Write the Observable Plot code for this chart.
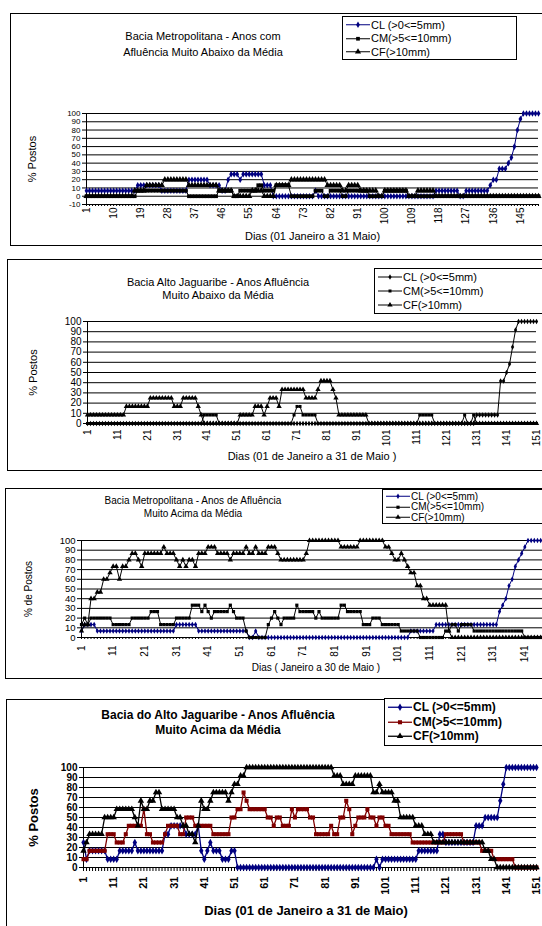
<!DOCTYPE html>
<html><head><meta charset="utf-8">
<script src="https://cdn.jsdelivr.net/npm/d3@7"></script>
<script src="https://cdn.jsdelivr.net/npm/@observablehq/plot@0.6"></script>
<style>
html,body{margin:0;padding:0;background:#fff}
body{width:542px;height:926px;overflow:hidden;position:relative;font-family:"Liberation Sans",Arial,sans-serif;color:#000}
.box{position:absolute;border:1px solid #000;box-sizing:border-box}
.svgwrap{position:absolute;left:0}
.svgwrap svg{max-width:none !important;display:block}
.title{position:absolute;text-align:center;white-space:nowrap;transform:translateX(-50%)}
.legend{position:absolute;border:1px solid #000;background:#fff;box-sizing:border-box;padding:1px 0 0 3px}
.legend .row{display:flex;align-items:center;white-space:nowrap}
.legend svg{flex:none;margin-right:1px}
</style></head><body>
<script>
// ---------- data: change points [day, % of stations], each value holds until the next change ----------
const seriesNames = ["CL (>0<=5mm)", "CM(>5<=10mm)", "CF(>10mm)"];
const days = d3.range(1, 152);
const yTicks1 = [-10, 0, 10, 20, 30, 40, 50, 60, 70, 80, 90, 100];
const yTicks = [0, 10, 20, 30, 40, 50, 60, 70, 80, 90, 100];
const xTicks1 = [1, 10, 19, 28, 37, 46, 55, 64, 73, 82, 91, 100, 109, 118, 127, 136, 145];
const xTicks = [1, 11, 21, 31, 41, 51, 61, 71, 81, 91, 101, 111, 121, 131, 141, 151];

// Panel 1: Bacia Metropolitana - muito abaixo
const p1CL = [[1,6.7],[18,13.3],[26,6.7],[35,20],[42,13.3],[46,6.7],[48,20],[49,26.7],[52,20],[53,26.7],[60,13.3],[63,0],[77,6.7],[78,0],[117,6.7],[125,0],[127,6.7],[135,13.3],[136,20],[138,33.3],[141,40],[142,46.7],[143,60],[144,80],[145,93.3],[146,100]];
const p1CM = [[1,0],[18,6.7],[35,0],[45,6.7],[50,0],[52,6.7],[58,13.3],[60,6.7],[64,13.3],[69,0],[77,6.7],[80,0],[82,6.7],[86,0],[88,6.7],[95,0],[100,6.7],[108,0]];
const p1CF = [[1,0],[17,6.7],[21,13.3],[27,20],[35,13.3],[45,6.7],[50,0],[56,6.7],[60,0],[64,13.3],[69,20],[81,13.3],[86,6.7],[88,13.3],[92,6.7],[98,0],[100,6.7],[108,0],[111,6.7],[117,0]];

// Panel 2: Bacia Alto Jaguaribe - muito abaixo
const p2CL = [[1,0],[131,8.3],[139,41.7],[141,50],[142,58.3],[143,75],[144,91.7],[145,100]];
const p2CM = [[1,0],[40,8.3],[45,0],[70,8.3],[71,16.7],[73,8.3],[78,0],[112,8.3],[117,0],[127,8.3],[128,0],[130,8.3],[131,0]];
const p2CF = [[1,8.3],[14,16.7],[22,25],[30,16.7],[33,25],[38,16.7],[39,8.3],[40,0],[52,8.3],[57,16.7],[60,8.3],[61,16.7],[62,25],[65,16.7],[66,33.3],[74,25],[78,33.3],[79,41.7],[83,33.3],[84,25],[85,8.3],[95,0]];

// Panel 3: Bacia Metropolitana - muito acima
const p3CL = [[1,6.7],[2,13.3],[6,6.7],[31,13.3],[38,6.7],[53,6.7],[54,0],[56,6.7],[57,0],[105,6.7],[113,13.3],[133,26.7],[134,33.3],[135,40],[136,53.3],[137,60],[138,73.3],[139,80],[140,86.7],[141,93.3],[142,100]];
const p3CM = [[1,13.3],[2,20],[3,13.3],[4,20],[11,13.3],[17,20],[23,26.7],[26,13.3],[31,20],[36,33.3],[39,26.7],[40,33.3],[41,26.7],[42,20],[43,26.7],[48,33.3],[49,26.7],[50,20],[53,6.7],[54,0],[60,13.3],[61,20],[62,26.7],[63,20],[64,13.3],[65,20],[69,33.3],[70,26.7],[75,20],[76,26.7],[77,20],[83,33.3],[85,26.7],[90,13.3],[93,20],[96,13.3],[102,6.7],[108,0],[116,6.7],[118,13.3],[120,6.7],[121,13.3],[125,6.7],[141,0]];
const p3CF = [[1,6.7],[2,13.3],[4,40],[6,46.7],[8,60],[10,66.7],[11,73.3],[13,60],[14,73.3],[16,80],[17,86.7],[19,80],[20,73.3],[21,86.7],[27,93.3],[28,86.7],[31,80],[32,73.3],[33,80],[34,73.3],[35,80],[37,73.3],[38,86.7],[41,93.3],[44,86.7],[48,80],[49,86.7],[53,93.3],[54,86.7],[56,93.3],[57,86.7],[60,93.3],[63,86.7],[64,80],[72,86.7],[73,100],[83,93.3],[89,100],[97,93.3],[99,86.7],[100,80],[102,86.7],[103,80],[104,73.3],[105,66.7],[107,53.3],[109,40],[111,33.3],[117,6.7],[118,0]];

// Panel 4: Bacia do Alto Jaguaribe - muito acima
const p4CL = [[1,25],[2,8.3],[3,16.7],[9,8.3],[13,16.7],[18,25],[19,16.7],[28,33.3],[30,41.7],[35,33.3],[39,41.7],[40,16.7],[41,8.3],[42,16.7],[43,25],[44,16.7],[47,8.3],[50,16.7],[52,0],[98,8.3],[99,0],[100,8.3],[112,16.7],[119,33.3],[121,25],[131,41.7],[134,50],[139,66.7],[140,83.3],[141,100]];
const p4CM = [[1,8.3],[3,16.7],[9,33.3],[12,25],[15,33.3],[16,41.7],[21,58.3],[22,33.3],[24,25],[28,33.3],[29,41.7],[33,33.3],[35,50],[38,41.7],[44,33.3],[50,50],[52,58.3],[54,75],[55,66.7],[56,58.3],[62,50],[64,41.7],[65,50],[67,41.7],[70,58.3],[71,50],[72,58.3],[76,50],[78,33.3],[83,41.7],[84,33.3],[86,50],[88,66.7],[89,58.3],[90,33.3],[91,41.7],[92,50],[95,58.3],[96,50],[98,41.7],[99,50],[101,41.7],[103,33.3],[110,25],[121,33.3],[127,25],[133,16.7],[137,8.3],[144,0]];
const p4CF = [[1,16.7],[2,25],[3,33.3],[8,50],[12,58.3],[18,50],[19,41.7],[20,66.7],[21,58.3],[23,66.7],[25,75],[27,58.3],[32,50],[34,41.7],[36,33.3],[38,25],[39,41.7],[40,66.7],[41,58.3],[43,66.7],[44,75],[49,66.7],[50,75],[51,83.3],[53,91.7],[55,100],[84,91.7],[87,83.3],[91,91.7],[97,75],[99,83.3],[100,75],[104,66.7],[106,50],[111,41.7],[114,33.3],[117,25],[134,16.7],[136,8.3],[138,0]];

// ---------- helpers ----------
function expand(cp) {
  const out = []; let j = 0;
  for (const d of days) { while (j + 1 < cp.length && cp[j + 1][0] <= d) j++; out.push({day: d, v: cp[j][1]}); }
  return out;
}
const FONT = '"Liberation Sans", Arial, sans-serif';
const symMap = {diamond: d3.symbolDiamond, square: d3.symbolSquare, triangle: d3.symbolTriangle};

function panel(c) {
  const box = document.createElement("div");
  box.className = "box";
  Object.assign(box.style, {left: c.box[0] + "px", top: c.box[1] + "px", width: c.box[2] + "px", height: c.box[3] + "px"});
  document.body.appendChild(box);

  const svgW = c.svgWidth || 542;
  const top = c.box[1], H = c.box[3];
  const marks = [
    Plot.ruleY(c.yTicks, {stroke: "#000", strokeWidth: 1}),
    Plot.ruleX([1], {stroke: "#000", strokeWidth: 1}),
    Plot.axisY({ticks: c.yTicks, tickSize: 4, tickPadding: 2, fontSize: c.yTickFont, label: null, tickFormat: d => String(d)}),
    Plot.axisX({ticks: days, tickSize: c.minorTick, tickFormat: () => "", label: null, anchor: "bottom"}),
    Plot.axisX({ticks: c.xTicks, tickSize: 0, tickPadding: c.xPad, tickRotate: -90, fontSize: c.tickFont, label: null, anchor: "bottom", tickFormat: d => String(d)}),
  ];
  c.series.forEach(s => {
    const data = expand(s.cp);
    marks.push(Plot.line(data, {x: "day", y: "v", stroke: s.color, strokeWidth: c.lineW}));
    marks.push(Plot.dot(data, {x: "day", y: "v", symbol: s.symbol, r: s.r, fill: s.color, stroke: "none"}));
  });
  marks.push(Plot.text([c.yLabel], {frameAnchor: "left", rotate: -90, dx: c.yLabelX - c.plotLeft, dy: c.yLabelDy || 0, fontSize: c.labelFont, textAnchor: "middle", lineAnchor: "middle"}));
  marks.push(Plot.text([c.xLabel], {frameAnchor: "bottom", dy: c.xLabelY - c.yBot, dx: c.xLabelDx || 0, fontSize: c.labelFont, textAnchor: "middle", lineAnchor: "middle"}));

  const chart = Plot.plot({
    width: svgW, height: H,
    marginLeft: c.plotLeft, marginRight: svgW - c.plotRight,
    marginTop: c.yTop - top, marginBottom: top + H - c.yBot,
    x: {domain: [1, 151], axis: null},
    y: {domain: [c.yTicks[0], 100], axis: null},
    style: {fontFamily: FONT, fontWeight: c.bold ? "bold" : "normal", background: "transparent", color: "#000", overflow: "visible", maxWidth: "none"},
    marks
  });
  const wrap = document.createElement("div");
  wrap.className = "svgwrap";
  wrap.style.top = top + "px";
  wrap.style.width = svgW + "px";
  wrap.appendChild(chart);
  document.body.appendChild(wrap);

  // title
  const t = document.createElement("div");
  t.className = "title";
  Object.assign(t.style, {left: c.titleX + "px", top: c.titleY + "px", fontSize: c.titleFont + "px", lineHeight: c.titleLH + "px", fontWeight: c.bold ? "bold" : "normal"});
  c.title.forEach(line => { const d = document.createElement("div"); d.textContent = line; t.appendChild(d); });
  document.body.appendChild(t);

  // legend
  const L = document.createElement("div");
  L.className = "legend";
  Object.assign(L.style, {left: c.leg[0] + "px", top: c.leg[1] + "px", width: c.leg[2] + "px", height: c.leg[3] + "px", fontSize: c.legFont + "px", fontWeight: c.bold ? "bold" : "normal"});
  c.series.forEach((s, i) => {
    const row = document.createElement("div");
    row.className = "row";
    row.style.height = c.legRow + "px";
    const sv = d3.create("svg").attr("width", 24).attr("height", c.legRow);
    sv.append("line").attr("x1", 0).attr("x2", 24).attr("y1", c.legRow / 2).attr("y2", c.legRow / 2).attr("stroke", s.color).attr("stroke-width", c.lineW);
    sv.append("path").attr("d", d3.symbol(symMap[s.symbol], Math.PI * s.r * s.r)()).attr("transform", `translate(12,${c.legRow / 2})`).attr("fill", s.color);
    row.appendChild(sv.node());
    const sp = document.createElement("span");
    sp.textContent = seriesNames[i];
    row.appendChild(sp);
    L.appendChild(row);
  });
  document.body.appendChild(L);
}

const NAVY = "#000080", BLK = "#000", MAROON = "#800000";

panel({
  box: [10, 13, 540, 233], plotLeft: 86, plotRight: 538, yTop: 113, yBot: 204,
  yTicks: yTicks1, xTicks: xTicks1, tickFont: 10, yTickFont: 8, labelFont: 11, xPad: 3, minorTick: 2, lineW: 1,
  yLabel: "% Postos", yLabelX: 32, xLabel: "Dias (01 Janeiro a 31 Maio)", xLabelY: 236,
  title: ["Bacia Metropolitana - Anos com", "Afluência Muito Abaixo da Média"], titleX: 203, titleY: 28, titleFont: 11, titleLH: 16,
  leg: [342, 16, 175, 44], legFont: 11, legRow: 13.5,
  series: [
    {cp: p1CL, color: NAVY, symbol: "diamond", r: 2},
    {cp: p1CM, color: BLK, symbol: "square", r: 2.1},
    {cp: p1CF, color: BLK, symbol: "triangle", r: 2.3}
  ]
});

panel({
  box: [7, 259, 540, 212], plotLeft: 87, plotRight: 536, yTop: 321, yBot: 423,
  yTicks: yTicks, xTicks: xTicks, tickFont: 10, yTickFont: 10, labelFont: 11, xPad: 6, minorTick: 2, lineW: 1,
  yLabel: "% Postos", yLabelX: 33, xLabel: "Dias (01 de Janeiro a 31 de Maio )", xLabelY: 456,
  title: ["Bacia Alto Jaguaribe - Anos Afluência", "Muito Abaixo da Média"], titleX: 218, titleY: 276, titleFont: 11, titleLH: 13,
  leg: [374, 268, 170, 46], legFont: 11, legRow: 14,
  series: [
    {cp: p2CL, color: BLK, symbol: "diamond", r: 1.7},
    {cp: p2CM, color: BLK, symbol: "square", r: 1.7},
    {cp: p2CF, color: BLK, symbol: "triangle", r: 2}
  ]
});

panel({
  box: [5, 488, 545, 191], plotLeft: 81, plotRight: 556, svgWidth: 575, yTop: 540, yBot: 637,
  yTicks: yTicks, xTicks: xTicks, tickFont: 10, yTickFont: 9.5, labelFont: 10, xPad: 8, minorTick: 2, lineW: 1,
  yLabel: "% de Postos", yLabelX: 28, xLabel: "Dias ( Janeiro a 30 de Maio )", xLabelY: 667, xLabelDx: -3,
  title: ["Bacia Metropolitana - Anos de Afluência", "Muito Acima da Média"], titleX: 193, titleY: 494, titleFont: 10, titleLH: 13,
  leg: [382, 489, 175, 35], legFont: 10, legRow: 10.5,
  series: [
    {cp: p3CL, color: NAVY, symbol: "diamond", r: 1.7},
    {cp: p3CM, color: BLK, symbol: "square", r: 1.8},
    {cp: p3CF, color: BLK, symbol: "triangle", r: 2}
  ]
});

panel({
  box: [6, 699, 545, 240], plotLeft: 83, plotRight: 536, yTop: 767, yBot: 867,
  yTicks: yTicks, xTicks: xTicks, tickFont: 11, yTickFont: 10, labelFont: 13, xPad: 9, minorTick: 4, lineW: 1.3, bold: true,
  yLabel: "% Postos", yLabelX: 33, xLabel: "Dias (01 de Janeiro a 31 de Maio)", xLabelY: 910, xLabelDx: -4,
  title: ["Bacia do Alto Jaguaribe - Anos Afluência", "Muito Acima da Média"], titleX: 218, titleY: 708, titleFont: 12, titleLH: 15,
  leg: [384, 698, 170, 48], legFont: 12, legRow: 14.5,
  series: [
    {cp: p4CL, color: NAVY, symbol: "diamond", r: 2.3},
    {cp: p4CM, color: MAROON, symbol: "square", r: 2.3},
    {cp: p4CF, color: BLK, symbol: "triangle", r: 2.4}
  ]
});
</script>
</body></html>
